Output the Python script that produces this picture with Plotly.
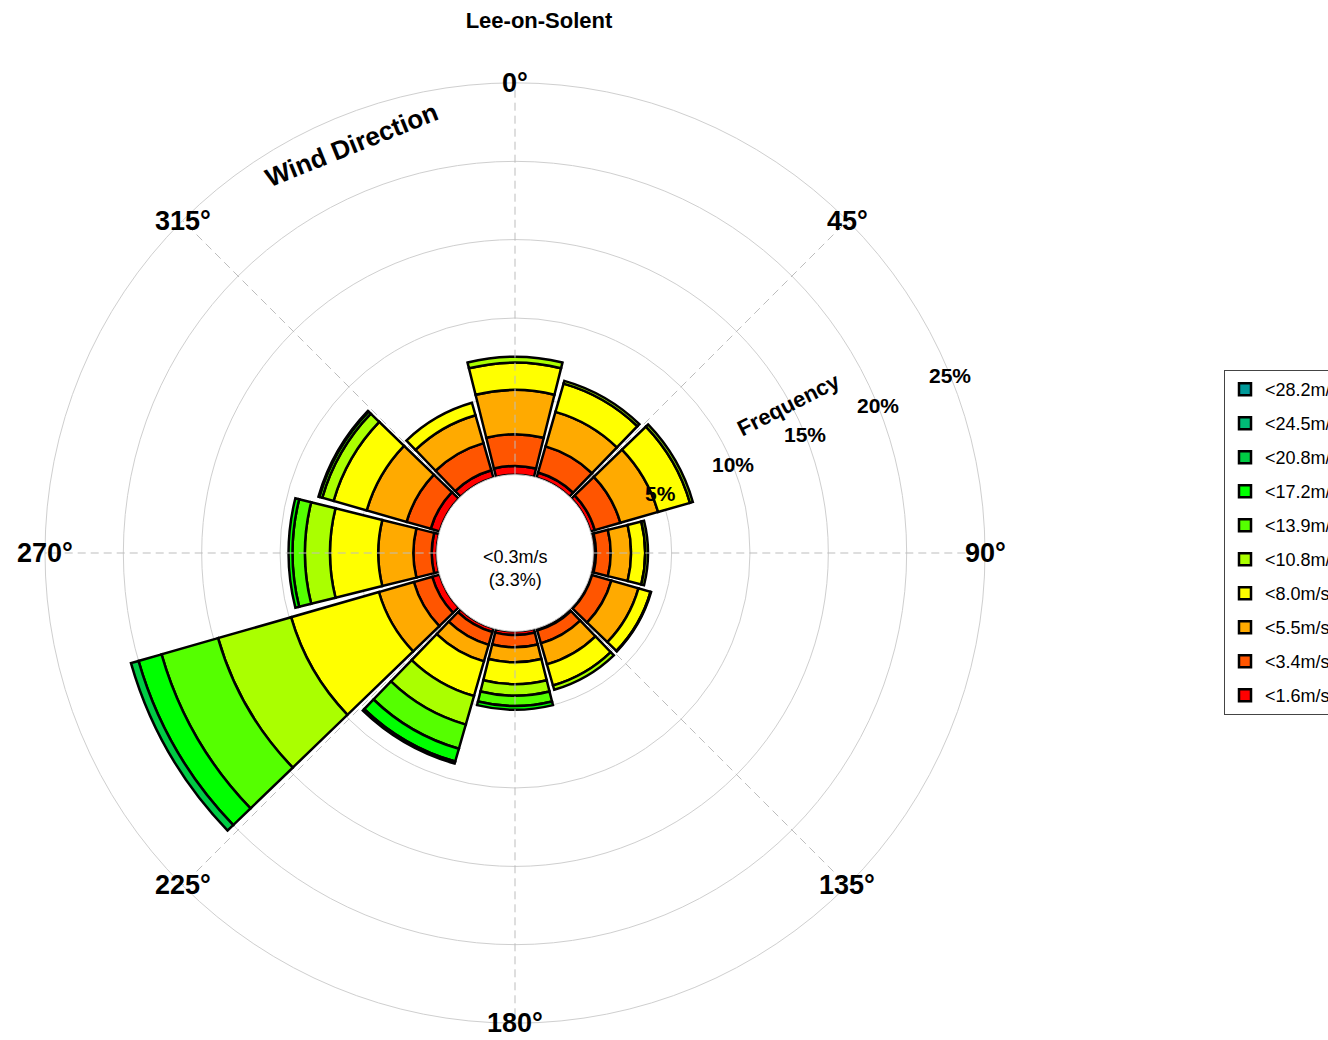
import math
import plotly.graph_objects as go

# ---------------- data ----------------
directions = [0, 30, 60, 90, 120, 150, 180, 210, 240, 270, 300, 330]
speed_labels = ["<1.6m/s", "<3.4m/s", "<5.5m/s", "<8.0m/s", "<10.8m/s",
                "<13.9m/s", "<17.2m/s", "<20.8m/s", "<24.5m/s", "<28.2m/s"]
speed_colors = ["#FF0000", "#FF5500", "#FFAA00", "#FFFF00", "#AAFF00",
                "#55FF00", "#00FF00", "#00CC44", "#00BB77", "#009999"]

# frequency (%) per direction for each speed class
freq_1_6 = [0.56, 0.35, 0.30, 0.17, 0.12, 0.15, 0.24, 0.25, 0.50, 0.32, 0.60, 0.50]
freq_3_4 = [2.02, 1.73, 1.70, 0.94, 1.28, 0.85, 0.78, 0.85, 1.22, 1.17, 1.60, 1.80]
freq_5_5 = [2.83, 2.29, 2.50, 1.30, 1.80, 1.40, 0.96, 1.10, 2.32, 2.24, 2.65, 1.85]
freq_8_0 = [1.74, 1.88, 2.12, 0.90, 0.80, 1.40, 1.39, 2.30, 5.83, 3.08, 2.20, 0.83]
freq_10_8 = [0.38, 0.18, 0.19, 0.18, 0.04, 0.28, 0.74, 1.90, 4.85, 1.60, 0.75, 0.00]
freq_13_9 = [0.00, 0.00, 0.00, 0.00, 0.00, 0.00, 0.66, 1.60, 3.75, 0.79, 0.20, 0.00]
freq_17_2 = [0.00, 0.00, 0.00, 0.00, 0.00, 0.00, 0.24, 0.85, 1.53, 0.25, 0.05, 0.00]
freq_20_8 = [0.00, 0.00, 0.00, 0.00, 0.00, 0.00, 0.00, 0.13, 0.50, 0.00, 0.00, 0.00]
freq_24_5 = [0.00] * 12
freq_28_2 = [0.00] * 12

angle_ticks = [0, 45, 90, 135, 180, 225, 270, 315]
angle_tick_labels = ["0°", "45°", "90°", "135°", "180°", "225°", "270°", "315°"]
radial_ticks = [5, 10, 15, 20, 25]
radial_tick_labels = ["5%", "10%", "15%", "20%", "25%"]
radial_label_bearing = 67.8

title_text = "Lee-on-Solent"
calm_text = "<0.3m/s<br>(3.3%)"

# ---------------- layout geometry ----------------
W, H = 1328, 1040
CX, CY, R = 515, 553, 470
HOLE_PX = 78.3
R_MAX = radial_ticks[-1]
SECTOR_WIDTH = 28

FONT = "Liberation Sans, Arial, sans-serif"

series = [freq_1_6, freq_3_4, freq_5_5, freq_8_0, freq_10_8,
          freq_13_9, freq_17_2, freq_20_8, freq_24_5, freq_28_2]

fig = go.Figure()
for i, (lab, col, vals) in enumerate(zip(speed_labels, speed_colors, series)):
    fig.add_trace(go.Barpolar(
        r=vals, theta=directions, width=[SECTOR_WIDTH] * len(directions),
        name=lab, legendgroup=lab, legendrank=1000 - i,
        marker=dict(color=col, line=dict(color="black", width=2.5)),
        hoverinfo="skip",
    ))

# dashed spokes drawn over the bars
spoke_r, spoke_t = [], []
for a in angle_ticks:
    spoke_r += [0, R_MAX, None]
    spoke_t += [a, a, None]
fig.add_trace(go.Scatterpolar(
    r=spoke_r, theta=spoke_t, mode="lines", showlegend=False, hoverinfo="skip",
    line=dict(color="#BDBDBD", width=1, dash="8px,5px"),
))


def to_paper(bearing_deg, radius_px):
    th = math.radians(bearing_deg)
    return (CX + radius_px * math.sin(th)) / W, (H - CY + radius_px * math.cos(th)) / H


annotations = []
for a, t in zip(angle_ticks, angle_tick_labels):
    px, py = to_paper(a, R)
    annotations.append(dict(
        x=px, y=py, xref="paper", yref="paper", text=t, showarrow=False,
        xanchor="center", yanchor="middle",
        font=dict(family=FONT, size=27, color="black", weight="bold"),
    ))

for v, t in zip(radial_ticks, radial_tick_labels):
    px, py = to_paper(radial_label_bearing, HOLE_PX + (R - HOLE_PX) * v / R_MAX)
    annotations.append(dict(
        x=px, y=py, xref="paper", yref="paper", text=t, showarrow=False,
        xanchor="center", yanchor="middle",
        font=dict(family=FONT, size=21, color="black", weight="bold"),
    ))

annotations.append(dict(
    x=351 / W, y=(H - 145) / H, xref="paper", yref="paper", text="Wind Direction",
    showarrow=False, textangle=-22, xanchor="center", yanchor="middle",
    font=dict(family=FONT, size=26, color="black", weight="bold"),
))
annotations.append(dict(
    x=789 / W, y=(H - 405) / H, xref="paper", yref="paper", text="Frequency",
    showarrow=False, textangle=-27, xanchor="center", yanchor="middle",
    font=dict(family=FONT, size=22, color="black", weight="bold"),
))
annotations.append(dict(
    x=CX / W, y=(H - 568) / H, xref="paper", yref="paper", text=calm_text,
    showarrow=False, xanchor="center", yanchor="middle",
    font=dict(family=FONT, size=18, color="black"),
))

fig.update_layout(
    width=W, height=H,
    margin=dict(l=0, r=0, t=0, b=0, autoexpand=False),
    paper_bgcolor="white",
    title=dict(text=title_text, x=539 / W, xanchor="center", y=1 - 20 / H, yanchor="middle",
               font=dict(family=FONT, size=22, color="black", weight="bold")),
    polar=dict(
        domain=dict(x=[(CX - R) / W, (CX + R) / W], y=[(H - CY - R) / H, (H - CY + R) / H]),
        hole=HOLE_PX / R,
        bgcolor="white",
        barmode="stack",
        radialaxis=dict(
            range=[0, R_MAX], tickvals=radial_ticks, showticklabels=False,
            showline=False, ticks="", gridcolor="#CFCFCF", gridwidth=1,
        ),
        angularaxis=dict(
            rotation=90, direction="clockwise", showgrid=False,
            showticklabels=False, ticks="", showline=True, linecolor="#CFCFCF", linewidth=1,
        ),
    ),
    legend=dict(
        x=1224 / W, xanchor="left", y=1 - 370 / H, yanchor="top",
        traceorder="grouped", tracegroupgap=7.6,
        bgcolor="white", bordercolor="#444444", borderwidth=1,
        font=dict(family=FONT, size=18, color="black"),
    ),
    annotations=annotations,
)

fig.write_html("out.html", config={"displayModeBar": False},
               post_script="document.body.style.margin='0px';")
